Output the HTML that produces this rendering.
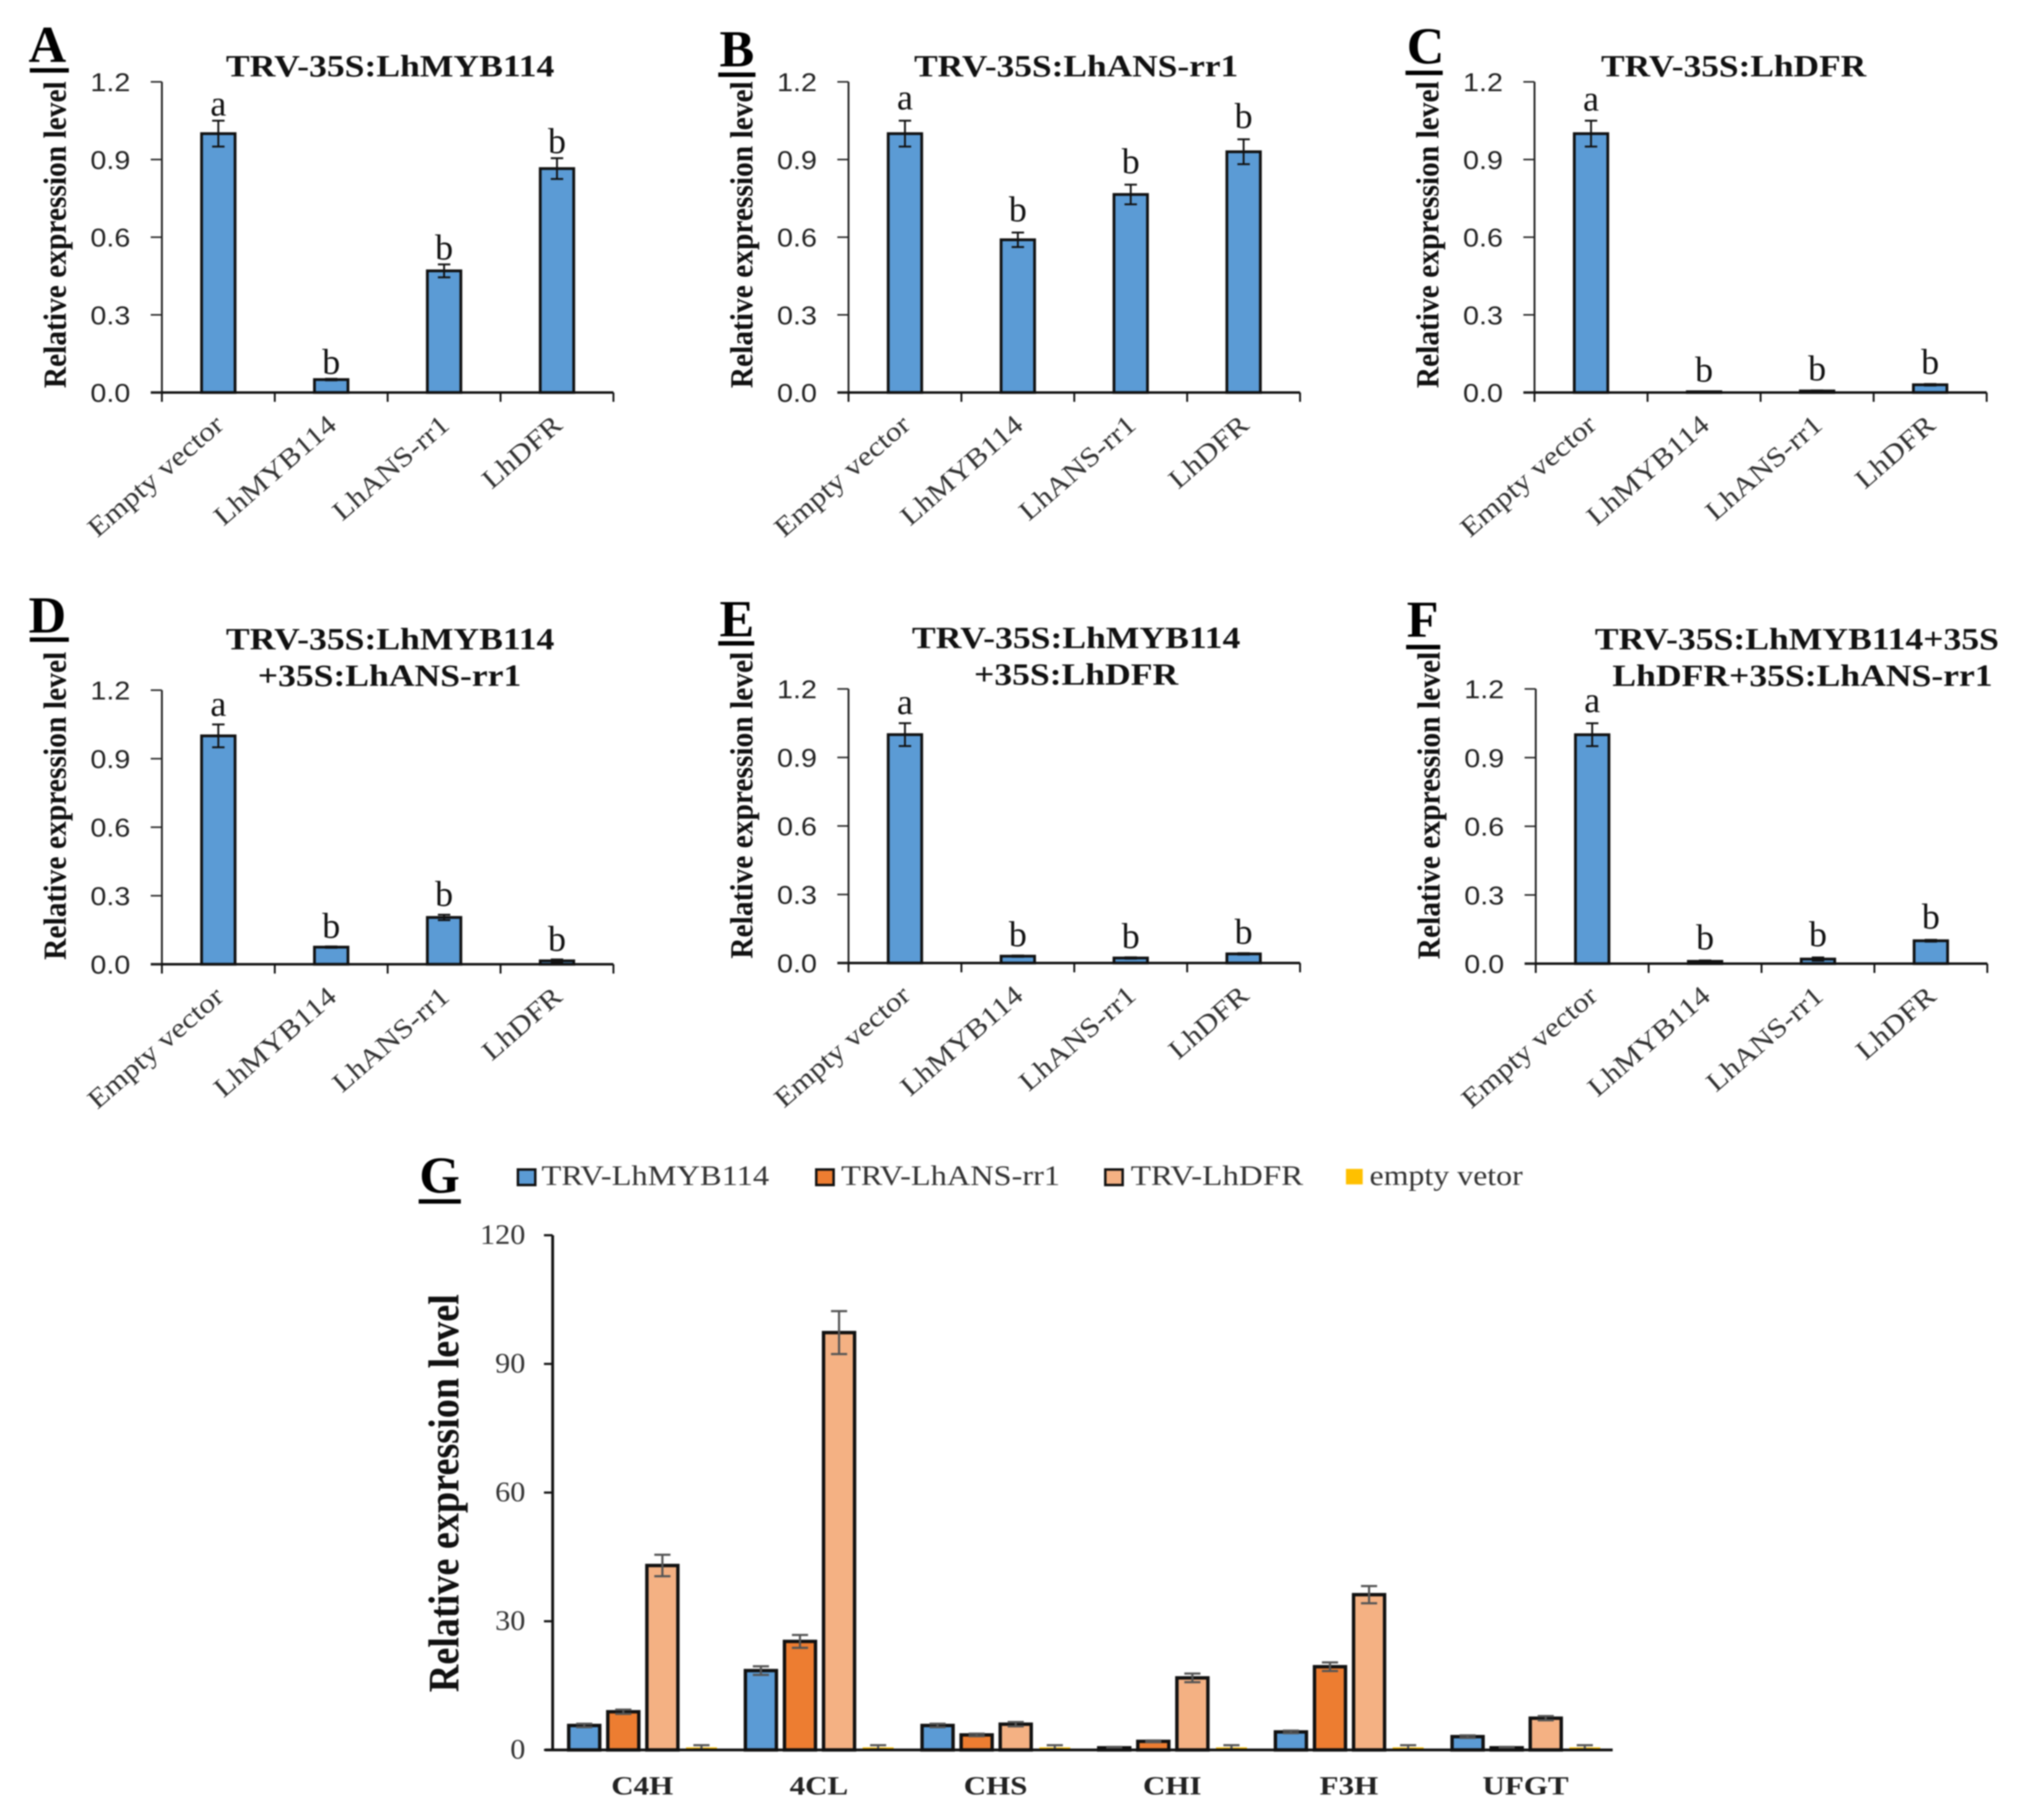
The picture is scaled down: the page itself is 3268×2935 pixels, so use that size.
<!DOCTYPE html>
<html lang="en">
<head>
<meta charset="utf-8">
<title>Relative expression level charts</title>
<style>
html,body{margin:0;padding:0;background:#fff;}
svg{display:block;filter:blur(1.1px);}
.panel-tag{font-family:"Liberation Serif",serif;font-weight:bold;font-size:84px;fill:#000;}
.chart-title{font-family:"Liberation Serif",serif;font-weight:bold;font-size:50px;fill:#111;text-anchor:middle;}
.legend-text{font-family:"Liberation Serif",serif;font-size:46px;fill:#333;}
</style>
</head>
<body>
<svg id="figure" xmlns="http://www.w3.org/2000/svg" width="3268" height="2935" viewBox="0 0 3268 2935">
<rect width="3268" height="2935" fill="#ffffff"/>

<text class="panel-tag" x="46" y="100">A</text>
<rect x="48" y="110" width="63" height="7" fill="#000"/>
<text class="panel-tag" x="1160" y="107">B</text>
<rect x="1158" y="117" width="60" height="7" fill="#000"/>
<text class="panel-tag" x="2268" y="102">C</text>
<rect x="2266" y="114" width="60" height="7" fill="#000"/>
<text class="panel-tag" x="46" y="1020">D</text>
<rect x="48" y="1028" width="63" height="7" fill="#000"/>
<text class="panel-tag" x="1160" y="1026">E</text>
<rect x="1158" y="1034" width="58" height="7" fill="#000"/>
<text class="panel-tag" x="2268" y="1027">F</text>
<rect x="2267" y="1040" width="55" height="7" fill="#000"/>
<text class="panel-tag" x="676" y="1923">G</text>
<rect x="675" y="1934" width="68" height="7" fill="#000"/>

<text class="chart-title" transform="translate(629,123) scale(1.148,1)">TRV-35S:LhMYB114</text>
<text class="chart-title" transform="translate(1735,123) scale(1.14,1)">TRV-35S:LhANS-rr1</text>
<text class="chart-title" transform="translate(2795,123) scale(1.14,1)">TRV-35S:LhDFR</text>
<text class="chart-title" transform="translate(629,1047) scale(1.148,1)">TRV-35S:LhMYB114</text>
<text class="chart-title" transform="translate(628,1106) scale(1.148,1)">+35S:LhANS-rr1</text>
<text class="chart-title" transform="translate(1735,1045) scale(1.148,1)">TRV-35S:LhMYB114</text>
<text class="chart-title" transform="translate(1735,1104) scale(1.148,1)">+35S:LhDFR</text>
<text class="chart-title" transform="translate(2897,1047) scale(1.148,1)">TRV-35S:LhMYB114+35S</text>
<text class="chart-title" transform="translate(2906,1106) scale(1.148,1)">LhDFR+35S:LhANS-rr1</text>

<g>
  <rect x="835" y="1886" width="28" height="25" fill="#5b9bd5" stroke="#111" stroke-width="4"/>
  <text class="legend-text" x="873" y="1911" textLength="367" lengthAdjust="spacingAndGlyphs">TRV-LhMYB114</text>
  <rect x="1316" y="1886" width="28" height="25" fill="#ed7d31" stroke="#111" stroke-width="4"/>
  <text class="legend-text" x="1356" y="1911" textLength="353" lengthAdjust="spacingAndGlyphs">TRV-LhANS-rr1</text>
  <rect x="1782" y="1886" width="28" height="25" fill="#f4b183" stroke="#111" stroke-width="4"/>
  <text class="legend-text" x="1823" y="1911" textLength="278" lengthAdjust="spacingAndGlyphs">TRV-LhDFR</text>
  <rect x="2170" y="1885" width="27" height="25" fill="#ffc000"/>
  <text class="legend-text" x="2208" y="1911" textLength="247" lengthAdjust="spacingAndGlyphs">empty vetor</text>
</g>
</svg>

<script>
// ---- Panels A-F shared data ----
const categories = ['Empty vector', 'LhMYB114', 'LhANS-rr1', 'LhDFR'];
const smallTicks = ['0.0', '0.3', '0.6', '0.9', '1.2'];
const smallTickValues = [0, 0.3, 0.6, 0.9, 1.2];
const letters = ['a', 'b', 'b', 'b'];

const valuesA = [1.0, 0.05, 0.47, 0.865];
const errorsA = [0.05, 0.003, 0.025, 0.04];
const valuesB = [1.0, 0.59, 0.765, 0.93];
const errorsB = [0.05, 0.028, 0.038, 0.048];
const valuesC = [1.0, 0.003, 0.006, 0.03];
const errorsC = [0.05, 0.001, 0.002, 0.003];
const valuesD = [1.0, 0.075, 0.205, 0.015];
const errorsD = [0.05, 0.003, 0.012, 0.006];
const valuesE = [1.0, 0.03, 0.022, 0.04];
const errorsE = [0.05, 0.003, 0.003, 0.003];
const valuesF = [1.0, 0.01, 0.02, 0.1];
const errorsF = [0.05, 0.004, 0.007, 0.004];

// ---- Panel G data ----
const genes = ['C4H', '4CL', 'CHS', 'CHI', 'F3H', 'UFGT'];
const largeTicks = ['0', '30', '60', '90', '120'];
const largeTickValues = [0, 30, 60, 90, 120];
const seriesMyb = [5.7, 18.5, 5.7, 0.5, 4.2, 3.1];
const seriesAns = [8.9, 25.3, 3.5, 2.0, 19.4, 0.5];
const seriesDfr = [43, 97.3, 6.0, 16.8, 36.2, 7.4];
const seriesEmpty = [0.6, 0.6, 0.6, 0.6, 0.6, 0.6];
const errorsMyb = [0.4, 1.0, 0.4, 0.2, 0.3, 0.3];
const errorsAns = [0.5, 1.5, 0.3, 0.2, 1.0, 0.2];
const errorsDfr = [2.5, 5.0, 0.5, 1.0, 2.0, 0.5];
const errorsEmpty = [0.5, 0.5, 0.5, 0.5, 0.5, 0.5];

const svg = document.getElementById('figure');
const NS = 'http://www.w3.org/2000/svg';
function make(tag, attrs, parent) {
  const node = document.createElementNS(NS, tag);
  for (const k in attrs) node.setAttribute(k, attrs[k]);
  parent.appendChild(node);
  return node;
}
function line(x1, y1, x2, y2, color, width, parent) {
  return make('line', {x1: x1, y1: y1, x2: x2, y2: y2, stroke: color, 'stroke-width': width}, parent);
}

function drawSmallPanel(id, g0, values, errors, letterGap) {
  const group = make('g', {}, svg);
  
  
  const yOf = v => g0.base - v / 1.2 * (g0.base - g0.top);
  const band = (g0.right - g0.axis) / categories.length;
  const xOf = i => g0.axis + band * (i + 0.5);

  // bars
  values.forEach((v, i) => {
    const bar = make('rect', {x: xOf(i) - 27, y: yOf(v), width: 54, height: Math.max(0, g0.base - yOf(v)),
      fill: '#5b9bd5', stroke: '#111', 'stroke-width': 4.5}, group);
    
    
    const e = errors[i];
    const err = make('path', {d: 'M' + (xOf(i) - 10) + ' ' + yOf(v + e) + 'H' + (xOf(i) + 10) +
      'M' + xOf(i) + ' ' + yOf(v + e) + 'V' + yOf(v - e) +
      'M' + (xOf(i) - 10) + ' ' + yOf(v - e) + 'H' + (xOf(i) + 10),
      fill: 'none', stroke: '#111', 'stroke-width': 3}, group);
    
    
    const letter = make('text', {x: xOf(i), y: yOf(v + e) - letterGap, 'text-anchor': 'middle',
      'font-family': '"Liberation Serif",serif', 'font-size': 58, fill: '#111'}, group);
    letter.textContent = letters[i];
    
    
  });

  // axes
  const yAxis = line(g0.axis, g0.top, g0.axis, g0.base, '#222', 3, group);
  
  
  const xAxis = line(g0.axis - 18, g0.base, g0.right, g0.base, '#111', 4, group);
  
  

  smallTickValues.forEach((t, i) => {
    const tick = line(g0.axis - 18, yOf(t), g0.axis, yOf(t), '#222', 2.5, group);
    
    
    const label = make('text', {transform: 'translate(' + (g0.axis - 51) + ',' + (yOf(t) + 15) + ') scale(1.1,1)',
      'text-anchor': 'end', 'font-family': '"Liberation Sans",sans-serif', 'font-size': 42, fill: '#222'}, group);
    label.textContent = smallTicks[i];
    
    
  });

  for (let i = 0; i <= categories.length; i++) {
    const x = g0.axis + band * i;
    const tick = line(x, g0.base, x, g0.base + 15, '#111', 3, group);
    
    
  }
  categories.forEach((c, i) => {
    const label = make('text', {transform: 'translate(' + (xOf(i) + 11) + ',' + (g0.base + 56) + ') rotate(-41) scale(1.146,1)',
      'text-anchor': 'end', 'font-family': '"Liberation Serif",serif', 'font-size': 44, fill: '#333'}, group);
    label.textContent = c;
    
    
  });

  const title = make('text', {x: 0, y: 0, 'text-anchor': 'middle', transform: 'translate(' + (g0.axis - 155) + ',' + ((g0.base + g0.titleTop) / 2 - 3) + ') rotate(-90)',
    textLength: g0.base - g0.titleTop - 8, lengthAdjust: 'spacingAndGlyphs',
    'font-family': '"Liberation Serif",serif', 'font-weight': 'bold', 'font-size': 52, fill: '#111'}, group);
  title.textContent = 'Relative expression level';
  
  
}

drawSmallPanel('a', {axis: 261, right: 989, top: 132, base: 633, titleTop: 130}, valuesA, errorsA, 8);
drawSmallPanel('b', {axis: 1368, right: 2096, top: 132, base: 633, titleTop: 130}, valuesB, errorsB, 18);
drawSmallPanel('c', {axis: 2474, right: 3203, top: 132, base: 633, titleTop: 130}, valuesC, errorsC, 16);
drawSmallPanel('d', {axis: 261, right: 989, top: 1113, base: 1555, titleTop: 1050}, valuesD, errorsD, 14);
drawSmallPanel('e', {axis: 1368, right: 2096, top: 1111, base: 1553, titleTop: 1050}, valuesE, errorsE, 15);
drawSmallPanel('f', {axis: 2476, right: 3204, top: 1111, base: 1554, titleTop: 1050}, valuesF, errorsF, 18);

// ---- Panel G ----
(function drawLargePanel() {
  const axis = 891, right = 2600, top = 1992, base = 2822, max = 120;
  const group = make('g', {}, svg);
  
  
  const yOf = v => base - v / max * (base - top);
  const band = (right - axis) / genes.length;
  const allSeries = [seriesMyb, seriesAns, seriesDfr, seriesEmpty];
  const allErrors = [errorsMyb, errorsAns, errorsDfr, errorsEmpty];
  const fills = ['#5b9bd5', '#ed7d31', '#f4b183', '#ffc000'];
  const names = ['myb114', 'ans', 'dfr', 'empty'];

  genes.forEach((gene, gi) => {
    const center = axis + band * (gi + 0.5) + 3;
    allSeries.forEach((series, si) => {
      const x = center + (si - 1.5) * 63;
      const v = series[gi];
      const bar = make('rect', {x: x - 25, y: yOf(v), width: 50, height: base - yOf(v), fill: fills[si],
        stroke: si === 3 ? 'none' : '#111', 'stroke-width': 5.5}, group);
      
      
      const e = allErrors[si][gi];
      const err = make('path', {d: 'M' + (x - 13) + ' ' + yOf(v + e) + 'H' + (x + 13) +
        'M' + x + ' ' + yOf(v + e) + 'V' + yOf(Math.max(v - e, 0)) +
        'M' + (x - 13) + ' ' + yOf(Math.max(v - e, 0)) + 'H' + (x + 13),
        fill: 'none', stroke: '#555', 'stroke-width': 3.5}, group);
      
      
    });
    const label = make('text', {transform: 'translate(' + (center - 1) + ',2894) scale(1.19,1)', 'text-anchor': 'middle',
      'font-family': '"Liberation Serif",serif', 'font-weight': 'bold', 'font-size': 42, fill: '#222'}, group);
    label.textContent = gene;
    
    
  });

  const yAxis = line(axis, top, axis, base, '#111', 4.5, group);
  
  
  const xAxis = line(axis - 12, base, right, base, '#111', 4.5, group);
  
  

  largeTickValues.forEach((t, i) => {
    const tick = line(axis - 14, yOf(t), axis, yOf(t), '#111', 3.5, group);
    
    
    const label = make('text', {transform: 'translate(847,' + (yOf(t) + 14) + ') scale(1.06,1)', 'text-anchor': 'end',
      'font-family': '"Liberation Serif",serif', 'font-size': 46, fill: '#333'}, group);
    label.textContent = largeTicks[i];
    
    
  });

  const title = make('text', {x: 0, y: 0, 'text-anchor': 'middle', transform: 'translate(739,2408) rotate(-90)',
    textLength: 642, lengthAdjust: 'spacingAndGlyphs',
    'font-family': '"Liberation Serif",serif', 'font-weight': 'bold', 'font-size': 70, fill: '#111'}, group);
  title.textContent = 'Relative expression level';
  
  
})();
</script>
</body>
</html>
